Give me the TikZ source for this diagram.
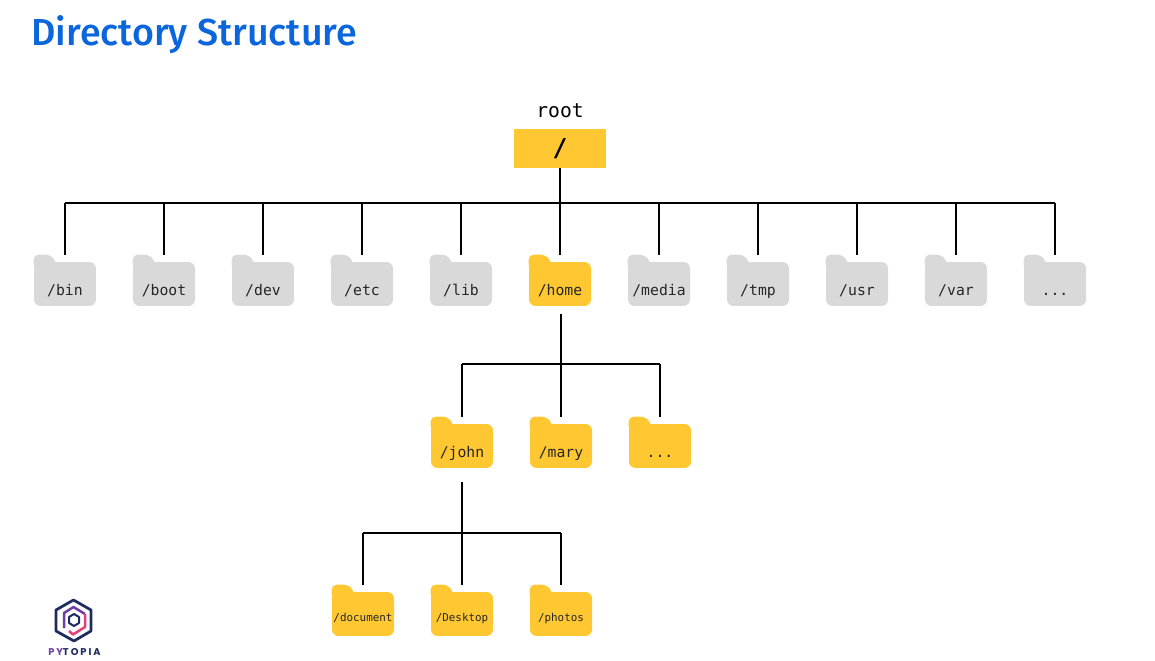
\documentclass[tikz,border=0pt]{standalone}
\usepackage{fontspec}
\setmainfont{Fira Sans}
\setmonofont{DejaVu Sans Mono}
\newfontfamily\titlefont{Fira Sans Medium}
\newfontfamily\logofont[LetterSpace=20]{Poppins}
\usetikzlibrary{calc}
\definecolor{dirgray}{HTML}{D9D9D9}
\definecolor{diryellow}{HTML}{FFC832}
\definecolor{titleblue}{HTML}{0B66DC}
\definecolor{logonavy}{HTML}{1F2A5E}
\definecolor{logopurple}{HTML}{6E3FA3}
\definecolor{logopink}{HTML}{E23F7C}
\tikzset{
    folder/.style={rounded corners=.13cm,minimum width=1.24cm,minimum height=.88cm,inner sep=0pt,
        text=black!85,font=\ttfamily\fontsize{8.4}{10}\selectfont,text height=.5cm,text depth=.02cm},
    smallfolder/.style={folder,font=\ttfamily\fontsize{6.2}{8}\selectfont,text height=.34cm},
    link/.style={line width=.055cm},
    tolid/.style={link,shorten >=.14cm},
    fromfolder/.style={link,shorten <=#1}
}
\newcommand{\moredirs}{...}
% tab on top of a folder
\newcommand{\foldertab}[2]{
    \fill[#2,rounded corners=.1cm] ($(#1.north west)+(0,8)$) -- ($(#1.north west)+(0,-7)$) -- ($(#1.north west)+(17,-7)$) -- ($(#1.north west)+(23,1)$) -- ($(#1.north west)+(23,8)$) -- cycle;
}
\begin{document}
\begin{tikzpicture}[x=.02cm,y=-.02cm]
    \useasboundingbox (0,0) rectangle (1155,661);

    % Title
    \node[anchor=base west,inner sep=0pt,text=titleblue,font=\titlefont\fontsize{21.4}{26}\selectfont] (title) at (31,46) {Directory Structure};

    % Root
    \node[fill=diryellow,minimum width=1.84cm,minimum height=.78cm,inner sep=0pt,font=\ttfamily\bfseries\fontsize{14}{16}\selectfont] (rootdir) at (560,148.5) {/};
    \node[font=\ttfamily\fontsize{11.2}{13}\selectfont,inner sep=0pt] (rootlabel) at (560,111) {root};
    \coordinate (topbar) at (560,203);

    % First level
    \foreach \name/\xpos in {bin/65,boot/164,dev/263,etc/362,lib/461,media/659,tmp/758,usr/857,var/956}{
        \node[folder,fill=dirgray] (\name) at (\xpos,284) {/\name};
        \foldertab{\name}{dirgray}
        \draw[tolid] (\name |- topbar) -- (\name);
    }
    \node[folder,fill=dirgray] (topmore) at (1055,284) {\moredirs};
    \foldertab{topmore}{dirgray}
    \draw[tolid] (topmore |- topbar) -- (topmore);
    \node[folder,fill=diryellow] (home) at (560,284) {/home};
    \foldertab{home}{diryellow}
    \draw[link] (rootdir) -- (topbar);
    \draw[tolid] (topbar) -- (home);
    \draw[link] (bin |- topbar) -- (topmore |- topbar);

    % Second level
    \coordinate (homebar) at (561,364);
    \foreach \name/\xpos in {john/462,mary/561}{
        \node[folder,fill=diryellow] (\name) at (\xpos,446) {/\name};
        \foldertab{\name}{diryellow}
        \draw[tolid] (\name |- homebar) -- (\name);
    }
    \node[folder,fill=diryellow] (homemore) at (660,446) {\moredirs};
    \foldertab{homemore}{diryellow}
    \draw[tolid] (homemore |- homebar) -- (homemore);
    \draw[fromfolder=.16cm] (home.south -| homebar) -- (homebar);
    \draw[link] (john |- homebar) -- (homemore |- homebar);

    % Third level
    \coordinate (johnbar) at (462,533);
    \foreach \name/\xpos in {document/363,Desktop/462,photos/561}{
        \node[smallfolder,fill=diryellow] (\name) at (\xpos,614) {/\name};
        \foldertab{\name}{diryellow}
        \draw[tolid] (\name |- johnbar) -- (\name);
    }
    \draw[fromfolder=.28cm] (john.south) -- (johnbar);
    \draw[link] (document |- johnbar) -- (photos |- johnbar);

    % Logo
    \draw[logonavy,line width=.055cm,line join=round] (73.5,600) -- (91,610) -- (91,631) -- (74,641) -- (56,631) -- (56,610) -- cycle;
    \draw[logopurple,line width=.05cm,line join=round] (64,628) -- (64,613) -- (73.5,607) -- (85,614);
    \draw[logopink,line width=.05cm,line join=round] (85,614) -- (85,627) -- (73,634.5) -- (69,631);
    \draw[logonavy,line width=.04cm,line join=round] (74,614) -- (79,617) -- (79,623) -- (74,626) -- (69,623) -- (69,617) -- cycle;
    \node[inner sep=0pt,font=\logofont\bfseries\fontsize{5.6}{7}\selectfont,text=logonavy] (logotext) at (74.5,652) {\textcolor{logopurple}{PY}TOPIA};
\end{tikzpicture}
\end{document}
